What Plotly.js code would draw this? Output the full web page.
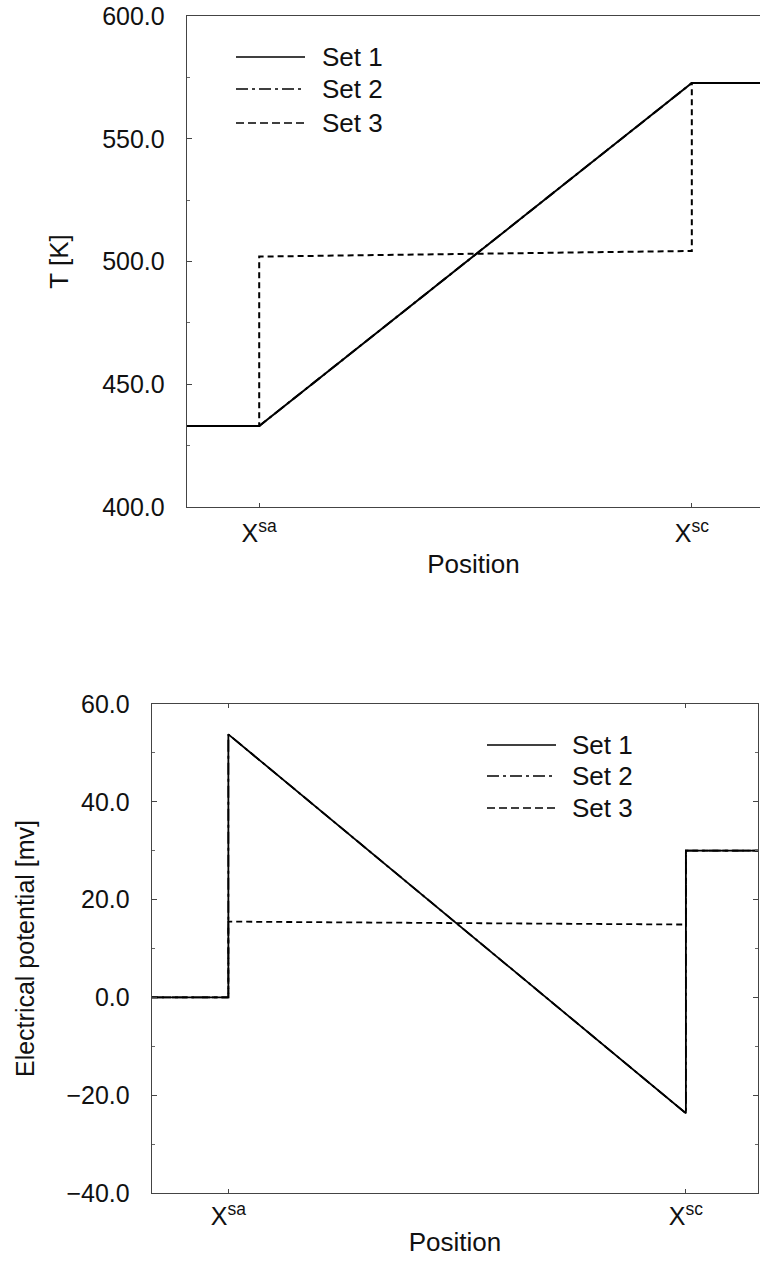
<!DOCTYPE html>
<html>
<head>
<meta charset="utf-8">
<script src="https://cdn.plot.ly/plotly-3.0.1.min.js"></script>
<style>
  html, body { margin: 0; padding: 0; background: #fff; }
  #chart { width: 761px; height: 1264px; }
</style>
</head>
<body>
<div id="chart"></div>
<script>
// ---- data ----
var xTickVals = [0.126, 0.881];
var xTickText = ['X<sup>sa</sup>', 'X<sup>sc</sup>'];
var seriesNames = ['Set 1', 'Set 2', 'Set 3'];

// Top panel: temperature T [K]
var tX1 = [0, 0.126, 0.881, 1.0];
var tSet1 = [433, 433, 572.7, 572.7];
var tX2 = [0, 0.126, 0.881, 1.0];
var tSet2 = [433, 433, 572.7, 572.7];
var tX3 = [0, 0.126, 0.126, 0.881, 0.881, 1.0];
var tSet3 = [433, 433, 502, 504.3, 572.7, 572.7];
var tTicks = [400, 450, 500, 550, 600];

// Bottom panel: electrical potential [mV]
var pX1 = [0, 0.126, 0.126, 0.881, 0.881, 1.0];
var pSet1 = [0, 0, 53.8, -23.7, 30, 30];
var pX2 = [0, 0.126, 0.126, 0.881, 0.881, 1.0];
var pSet2 = [0, 0, 53.8, -23.7, 30, 30];
var pX3 = [0, 0.126, 0.126, 0.881, 0.881, 1.0];
var pSet3 = [0, 0, 15.5, 14.9, 30, 30];
var pTicks = [-40, -20, 0, 20, 40, 60];

// ---- styling ----
var W = 761, H = 1264;
var FONT = 'Liberation Sans, Arial, Helvetica, sans-serif';
var dashes = ['solid', '12px,4px,3px,4px', '6px,4px'];
var legendDashes = ['solid', '12px,4px,3px,4px', '8px,4px'];
function px(x) { return x / W; }
function py(y) { return 1 - y / H; }

var traces = [];
// draw Set 2 first so Set 1 sits on top of it
[1, 0, 2].forEach(function (i) {
  var tx = [tX1, tX2, tX3][i], ty = [tSet1, tSet2, tSet3][i];
  traces.push({ x: tx, y: ty, xaxis: 'x', yaxis: 'y', mode: 'lines', name: seriesNames[i],
    showlegend: false, line: { color: '#000', width: 2, dash: dashes[i] } });
});
[1, 0, 2].forEach(function (i) {
  var tx = [pX1, pX2, pX3][i], ty = [pSet1, pSet2, pSet3][i];
  traces.push({ x: tx, y: ty, xaxis: 'x2', yaxis: 'y2', mode: 'lines', name: seriesNames[i],
    showlegend: false, line: { color: '#000', width: 1.8, dash: dashes[i] } });
});

// custom legends (long line samples as in the reference)
var shapes = [], annotations = [];
function addLegend(x0, x1, xt, ys) {
  for (var i = 0; i < 3; i++) {
    shapes.push({ type: 'line', xref: 'paper', yref: 'paper',
      x0: px(x0), x1: px(x1), y0: py(ys[i]), y1: py(ys[i]),
      line: { color: '#000', width: 1.6, dash: legendDashes[i] } });
    annotations.push({ xref: 'paper', yref: 'paper', x: px(xt), y: py(ys[i]),
      xanchor: 'left', yanchor: 'middle', showarrow: false, text: seriesNames[i],
      font: { family: FONT, size: 26, color: '#111' } });
  }
}
addLegend(236, 305, 320, [57, 89, 123]);
addLegend(487, 556, 570, [745, 776, 808]);

var axisLine = { showline: true, linecolor: '#444', linewidth: 1.3, zeroline: false, showgrid: false };

var layout = {
  width: W, height: H,
  margin: { l: 0, r: 0, t: 0, b: 0, pad: 0 },
  paper_bgcolor: '#fff', plot_bgcolor: '#fff',
  showlegend: false,
  font: { family: FONT, color: '#111' },
  xaxis: Object.assign({}, axisLine, {
    domain: [px(187), px(760)], range: [0, 1], anchor: 'y', mirror: true,
    tickmode: 'array', tickvals: xTickVals, ticktext: xTickText,
    ticks: 'inside', ticklen: 4, tickcolor: '#444',
    tickfont: { family: FONT, size: 25 }, ticklabelstandoff: 4,
    title: { text: 'Position', font: { family: FONT, size: 26 }, standoff: 8 }
  }),
  yaxis: Object.assign({}, axisLine, {
    domain: [py(507), py(16)], range: [400, 600], anchor: 'x', mirror: false,
    tickmode: 'array', tickvals: tTicks, tickformat: '.1f',
    ticks: 'inside', ticklen: 5, tickcolor: '#444',
    minor: { dtick: 25, ticks: 'inside', ticklen: 3, tickcolor: '#666' },
    tickfont: { family: FONT, size: 25 }, ticklabelstandoff: 16,
    title: { text: 'T [K]', font: { family: FONT, size: 26 }, standoff: 26 }
  }),
  xaxis2: Object.assign({}, axisLine, {
    domain: [px(152), px(758)], range: [0, 1], anchor: 'y2', mirror: 'ticks',
    tickmode: 'array', tickvals: xTickVals, ticktext: xTickText,
    ticks: 'inside', ticklen: 4, tickcolor: '#444',
    tickfont: { family: FONT, size: 25 }, ticklabelstandoff: 1,
    title: { text: 'Position', font: { family: FONT, size: 26 }, standoff: 3 }
  }),
  yaxis2: Object.assign({}, axisLine, {
    domain: [py(1193), py(704)], range: [-40, 60], anchor: 'x2', mirror: 'ticks',
    tickmode: 'array', tickvals: pTicks, tickformat: '.1f',
    ticks: 'inside', ticklen: 5, tickcolor: '#444',
    minor: { dtick: 10, ticks: 'inside', ticklen: 3, tickcolor: '#666' },
    tickfont: { family: FONT, size: 25 }, ticklabelstandoff: 16,
    title: { text: 'Electrical potential [mv]', font: { family: FONT, size: 25 }, standoff: 24 }
  }),
  shapes: shapes,
  annotations: annotations
};

Plotly.newPlot('chart', traces, layout, { staticPlot: true, displayModeBar: false });
</script>
</body>
</html>
